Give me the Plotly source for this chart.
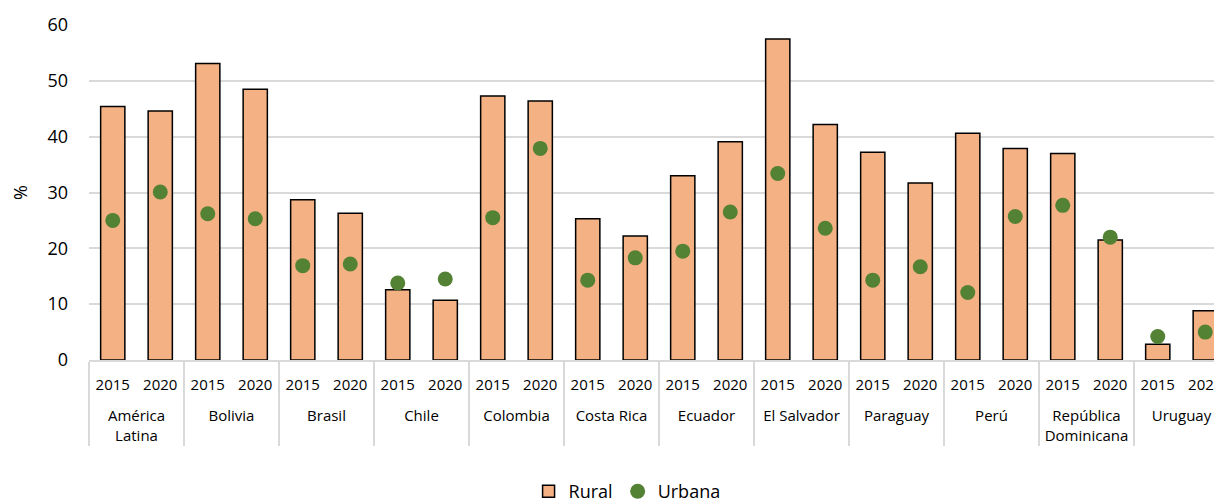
import plotly.graph_objects as go

countries = ["América<br>Latina", "Bolivia", "Brasil", "Chile", "Colombia", "Costa Rica",
             "Ecuador", "El Salvador", "Paraguay", "Perú", "República<br>Dominicana", "Uruguay"]
years = ["2015", "2020"]

rural = [45.4, 44.6, 53.1, 48.5, 28.7, 26.3, 12.6, 10.7, 47.3, 46.4, 25.3, 22.2,
         33.0, 39.1, 57.5, 42.2, 37.2, 31.7, 40.6, 37.9, 37.0, 21.5, 2.8, 8.8]
urbana = [25.0, 30.1, 26.2, 25.3, 16.9, 17.2, 13.8, 14.5, 25.5, 37.9, 14.3, 18.3,
          19.5, 26.5, 33.4, 23.6, 14.3, 16.7, 12.1, 25.7, 27.7, 22.0, 4.2, 5.0]

# two-level x axis: country / year (leading <br> pushes country row down a bit)
lvl_country = ["<br>" + c for c in countries for _ in years]
lvl_year = [y for _ in countries for y in years]

fig = go.Figure()
fig.add_trace(go.Bar(x=[lvl_country, lvl_year], y=rural, name="Rural",
                     marker=dict(color="#F4B183", line=dict(color="black", width=1.5))))
fig.add_trace(go.Scatter(x=[lvl_country, lvl_year], y=urbana, name="Urbana", mode="markers",
                         marker=dict(color="#548235", size=15)))

# page body has an 8px margin, so the figure is offset by 8px (right edge runs past the window)
fig.update_layout(
    width=1222, height=502,
    margin=dict(l=81, r=1, t=17, b=150),
    plot_bgcolor="white", paper_bgcolor="white",
    font=dict(family="Open Sans", color="black"),
    bargap=0.49,
    showlegend=True,
    legend=dict(orientation="h", xanchor="center", x=0.472, yref="container", y=0.0,
                yanchor="bottom", font=dict(size=18), itemwidth=30),
)
fig.update_yaxes(range=[0, 60], dtick=10, showgrid=True, gridcolor="#D9D9D9", gridwidth=2,
                 zeroline=False, tickfont=dict(size=18), automargin=False,
                 ticklabelstandoff=20,
                 title=dict(text="%", font=dict(size=18), standoff=22))
fig.update_xaxes(type="multicategory", range=[-0.5, 23.5], showline=True,
                 linecolor="#D9D9D9", linewidth=1.5, ticklabelstandoff=10,
                 tickfont=dict(size=15), showdividers=True, dividercolor="#D9D9D9",
                 dividerwidth=1.5, automargin=False)

fig.write_html("out.html")
